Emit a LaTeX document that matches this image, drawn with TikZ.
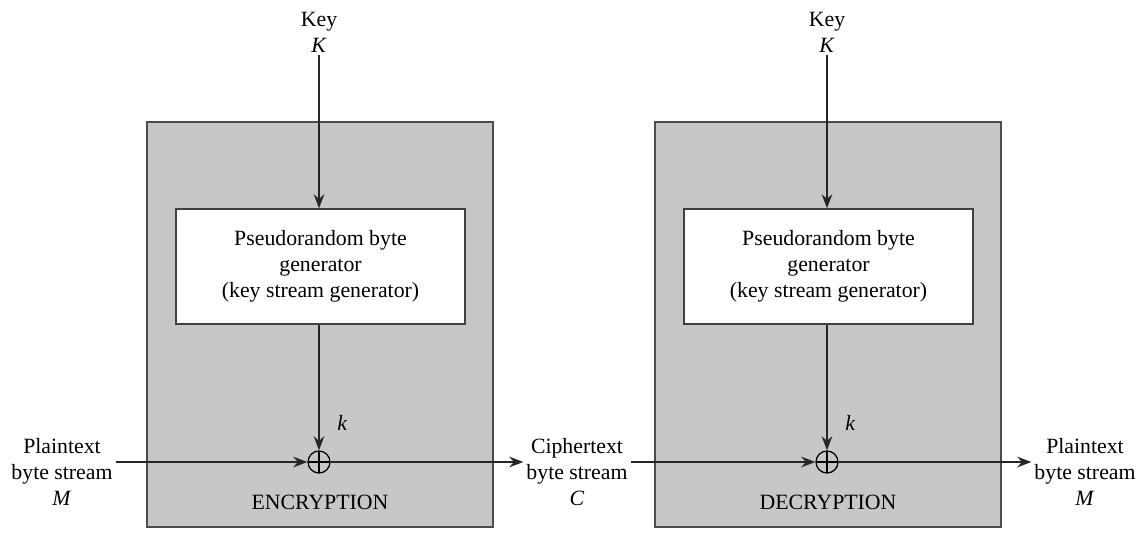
\documentclass[tikz,border=0pt]{standalone}
\usepackage{fontspec}
\setmainfont{Liberation Serif}
\usetikzlibrary{positioning, arrows.meta, calc}
\tikzset{
  unitbox/.style={rectangle, draw=black!70, line width=1.1pt, fill=black!22},
  genbox/.style={rectangle, draw=black!75, line width=0.9pt, fill=white, minimum width=7.225cm, minimum height=2.875cm, text centered, align=center},
  xorop/.style={circle, draw=black, line width=0.9pt, minimum size=0.55cm, inner sep=0pt,
    path picture={\draw[line width=0.9pt] (path picture bounding box.north) -- (path picture bounding box.south)
      (path picture bounding box.west) -- (path picture bounding box.east);}},
  lbl/.style={align=center, inner sep=2pt},
  arrow/.style={line width=1.5pt, draw=black!85, -{Stealth[length=10pt, width=7.5pt]}}
}

\begin{document}
\begin{tikzpicture}[x=0.025cm, y=-0.025cm, every node/.style={font=\fontsize{15.5}{18.5}\selectfont}]
    \useasboundingbox (0,0) rectangle (1145,542);

    % shaded units
    \node (enc) [unitbox, minimum width=8.65cm, minimum height=10.125cm] at (320,324.5) {};
    \node (dec) [unitbox, minimum width=8.65cm, minimum height=10.125cm] at (828,324.5) {};

    \node (gen1) [genbox] at (320.5,266.5) {Pseudorandom byte\\generator\\(key stream generator)};
    \node (gen2) [genbox] at (828.5,266.5) {Pseudorandom byte\\generator\\(key stream generator)};

    \node (xor1) [xorop] at (319,462) {};
    \node (xor2) [xorop] at (827,462) {};

    \node (key1) [lbl] at (319,32) {Key\\\textit{K}};
    \node (key2) [lbl] at (827,32) {Key\\\textit{K}};

    \node (plain1) [lbl] at (62,472) {Plaintext\\byte stream\\\textit{M}};
    \node (ciph) [lbl] at (577,472) {Ciphertext\\byte stream\\\textit{C}};
    \node (plain2) [lbl] at (1085,472) {Plaintext\\byte stream\\\textit{M}};

    \node (enclbl) at (320,502) {ENCRYPTION};
    \node (declbl) at (828,502) {DECRYPTION};

    \draw [arrow] (key1.south) -- (gen1.north -| key1);
    \draw [arrow] (key2.south) -- (gen2.north -| key2);
    \draw [arrow] (gen1.south -| xor1) -- node[right=9pt, pos=0.78] {\textit{k}} (xor1.north);
    \draw [arrow] (gen2.south -| xor2) -- node[right=9pt, pos=0.78] {\textit{k}} (xor2.north);

    \draw [arrow] (plain1.east |- xor1) -- (xor1.west);
    \draw [arrow] (xor1.east) -- (ciph.west |- xor1);
    \draw [arrow] (ciph.east |- xor2) -- (xor2.west);
    \draw [arrow] (xor2.east) -- (plain2.west |- xor2);
\end{tikzpicture}
\end{document}
